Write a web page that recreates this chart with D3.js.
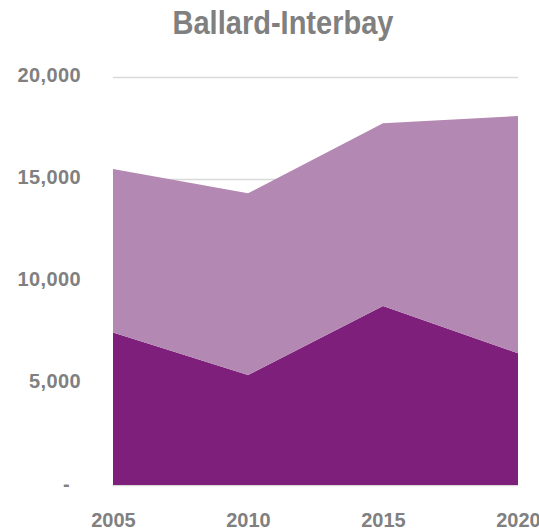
<!DOCTYPE html>
<html>
<head>
<meta charset="utf-8">
<script src="https://cdn.jsdelivr.net/npm/d3@7"></script>
<style>
    body { margin: 0; background: #fff; }
    svg { display: block; }
    text { font-family: "Liberation Sans", Arial, sans-serif; font-weight: bold; fill: #808080; }
</style>
</head>
<body>
<div id="chart"></div>
<script>
//Datos
const years = [2005, 2010, 2015, 2020];
const serieInferior = [7470, 5390, 8770, 6460];
const serieSuperior = [8020, 8910, 8960, 11630];
const yTicks = [0, 5000, 10000, 15000, 20000];
const titulo = 'Ballard-Interbay';

//Colores fijos
const COLOR_DARK = '#7F1F7C';
const COLOR_LIGHT = '#B388B2';
const COLOR_GRID = '#D9D9D9';

let width = 539, height = 532;
let margin = {top: 77, right: 21, bottom: 47, left: 113};

let svg = d3.select('#chart')
    .append('svg')
        .attr('width', width)
        .attr('height', height);

let data = years.map(function(y, i) {
    return { year: y, inferior: serieInferior[i], superior: serieSuperior[i] };
});

let x = d3.scaleLinear()
    .domain([2005, 2020])
    .range([margin.left, width - margin.right]);

let y = d3.scaleLinear()
    .domain([0, 20000])
    .range([height - margin.bottom, margin.top]);

//Rejilla
svg.append('g')
    .selectAll('line')
    .data(yTicks)
    .enter()
    .append('line')
    .attr('x1', x(2005))
    .attr('x2', x(2020))
    .attr('y1', function(d) { return y(d) + 0.5; })
    .attr('y2', function(d) { return y(d) + 0.5; })
    .attr('stroke', COLOR_GRID)
    .attr('stroke-width', 1.5);

//Áreas apiladas
let stack = d3.stack().keys(['inferior', 'superior']);
let series = stack(data);

let area = d3.area()
    .x(function(d) { return x(d.data.year); })
    .y0(function(d) { return y(d[0]); })
    .y1(function(d) { return y(d[1]); });

svg.append('g')
    .selectAll('path')
    .data(series)
    .enter()
    .append('path')
    .attr('fill', function(d, i) { return i == 0 ? COLOR_DARK : COLOR_LIGHT; })
    .attr('d', area);

//Eje Y
let yAxis = d3.axisLeft(y)
    .tickValues(yTicks)
    .tickSize(0)
    .tickPadding(0)
    .tickFormat(function(d) { return d == 0 ? '-' : d3.format(',')(d); });

svg.append('g')
    .attr('transform', 'translate(81,0)')
    .call(yAxis)
    .call(function(g) {
        g.select('.domain').remove();
        g.selectAll('text')
            .attr('font-size', 20)
            .attr('font-family', null)
            .attr('fill', null)
            .attr('letter-spacing', 0.4)
            .attr('dy', null)
            .attr('y', 4);
        g.selectAll('.tick')
            .filter(function(d) { return d == 0; })
            .select('text')
            .attr('x', -11)
            .attr('y', 5);
    });

//Eje X
let xAxis = d3.axisBottom(x)
    .tickValues(years)
    .tickSize(0)
    .tickPadding(0)
    .tickFormat(d3.format('d'));

svg.append('g')
    .attr('transform', 'translate(0,' + (height - margin.bottom) + ')')
    .call(xAxis)
    .call(function(g) {
        g.select('.domain').remove();
        g.selectAll('text')
            .attr('font-size', 20)
            .attr('font-family', null)
            .attr('fill', null)
            .attr('dy', null)
            .attr('y', 42);
    });

//Título
svg.append('text')
    .attr('x', 283)
    .attr('y', 34)
    .attr('text-anchor', 'middle')
    .attr('font-size', 33)
    .attr('textLength', 221)
    .attr('lengthAdjust', 'spacingAndGlyphs')
    .text(titulo);
</script>
</body>
</html>
